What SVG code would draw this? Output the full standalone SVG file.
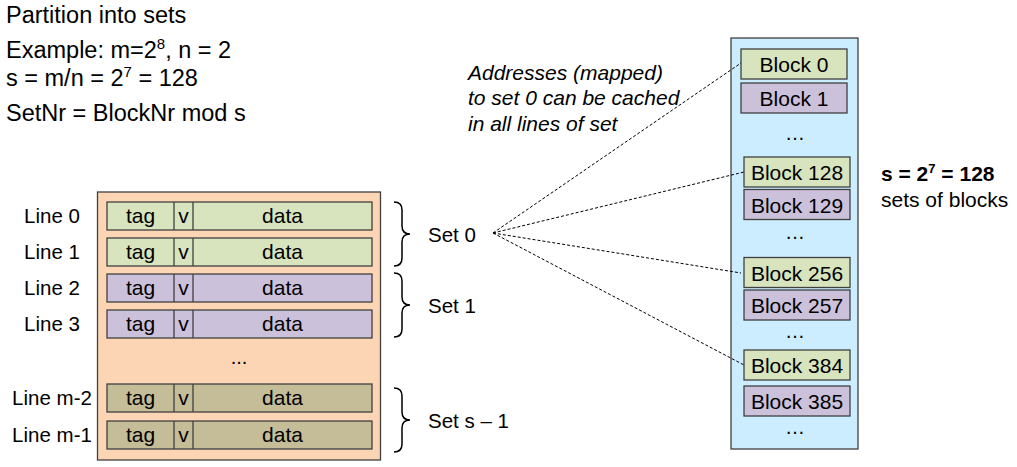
<svg xmlns="http://www.w3.org/2000/svg" width="1017" height="467" viewBox="0 0 1017 467">
  <style>
    text { font-family: "Liberation Sans", Arial, sans-serif; fill: #000; }
    .h { font-size: 23.5px; }
    .lbl { font-size: 20.5px; }
    .it { font-size: 21px; font-style: italic; }
    .cell { font-size: 21px; text-anchor: middle; }
    .box { stroke: #404040; stroke-width: 1.3; }
    .green { fill: #D7E4BD; }
    .purple { fill: #CCC1DA; }
    .tan { fill: #C4BD97; }
    .brace { fill: none; stroke: #000; stroke-width: 1.5; }
    .dash { fill: none; stroke: #000; stroke-width: 1; stroke-dasharray: 3 2; }
    .dots { font-size: 20px; text-anchor: middle; }
  </style>
  <defs>
    <!-- one cache line: tag | v | data -->
    <g id="row">
      <rect x="107" y="0" width="265" height="28" class="box"/>
      <line x1="174" y1="0" x2="174" y2="28" class="box"/>
      <line x1="193" y1="0" x2="193" y2="28" class="box"/>
      <text x="140.5" y="21" class="cell">tag</text>
      <text x="183.5" y="21" class="cell">v</text>
      <text x="282.5" y="21" class="cell">data</text>
    </g>
    <path id="brace" class="brace" d="M 0 0 Q 8 0 8 8 L 8 24 Q 8 32 16 32 Q 8 32 8 40 L 8 56 Q 8 64 0 64"/>
  </defs>

  <!-- heading text -->
  <g id="notes">
    <text x="6" y="23" class="h">Partition into sets</text>
    <text x="6" y="58" class="h">Example: m=2<tspan font-size="15" dy="-9">8</tspan><tspan dy="9">, n = 2</tspan></text>
    <text x="6" y="86" class="h">s = m/n = 2<tspan font-size="15" dy="-9">7</tspan><tspan dy="9"> = 128</tspan></text>
    <text x="6" y="121" class="h">SetNr = BlockNr mod s</text>
  </g>

  <!-- cache -->
  <g id="cache">
    <rect x="97.5" y="192" width="283" height="268" fill="#FCD5B4" stroke="#404040" stroke-width="1.3"/>
    <g class="green"><use href="#row" y="202"/></g>
    <g class="green"><use href="#row" y="238"/></g>
    <g class="purple"><use href="#row" y="274"/></g>
    <g class="purple"><use href="#row" y="310"/></g>
    <text x="239" y="364" class="dots">...</text>
    <g class="tan"><use href="#row" y="384"/></g>
    <g class="tan"><use href="#row" y="421"/></g>
  </g>

  <g id="line-labels" class="lbl" text-anchor="middle">
    <text x="52" y="223">Line 0</text>
    <text x="52" y="259">Line 1</text>
    <text x="52" y="295">Line 2</text>
    <text x="52" y="331">Line 3</text>
    <text x="52" y="405">Line m-2</text>
    <text x="52" y="442">Line m-1</text>
  </g>

  <!-- sets -->
  <g id="set0">
    <use href="#brace" x="394" y="202"/>
    <text x="428" y="242" class="lbl">Set 0</text>
  </g>
  <g id="set1">
    <use href="#brace" x="394" y="273"/>
    <text x="428" y="313" class="lbl">Set 1</text>
  </g>
  <g id="setlast">
    <use href="#brace" x="394" y="388"/>
    <text x="428" y="428" class="lbl">Set s – 1</text>
  </g>

  <g id="note-mapped" class="it">
    <text x="468" y="80">Addresses (mapped)</text>
    <text x="468" y="105">to set 0 can be cached</text>
    <text x="468" y="131">in all lines of set</text>
  </g>

  <!-- main memory -->
  <g id="memory">
    <rect x="731" y="38" width="127" height="411" fill="#CCECFF" stroke="#404040" stroke-width="1.3"/>
    <g id="block0"><rect x="741" y="49" width="106" height="30" class="box green"/><text x="794" y="72" class="cell">Block 0</text></g>
    <g id="block1"><rect x="741" y="83" width="106" height="30" class="box purple"/><text x="794" y="106" class="cell">Block 1</text></g>
    <text x="795" y="140" class="dots">…</text>
    <g id="block128"><rect x="744" y="157" width="106" height="30" class="box green"/><text x="797" y="180" class="cell">Block 128</text></g>
    <g id="block129"><rect x="744" y="189.5" width="106" height="30" class="box purple"/><text x="797" y="212.5" class="cell">Block 129</text></g>
    <text x="795" y="239" class="dots">…</text>
    <g id="block256"><rect x="744" y="257.5" width="106" height="30" class="box green"/><text x="797" y="280.5" class="cell">Block 256</text></g>
    <g id="block257"><rect x="744" y="290" width="106" height="30" class="box purple"/><text x="797" y="313" class="cell">Block 257</text></g>
    <text x="795" y="338" class="dots">…</text>
    <g id="block384"><rect x="744" y="350" width="106" height="30" class="box green"/><text x="797" y="373" class="cell">Block 384</text></g>
    <g id="block385"><rect x="744" y="386" width="106" height="30" class="box purple"/><text x="797" y="409" class="cell">Block 385</text></g>
    <text x="795" y="434" class="dots">…</text>
  </g>

  <g id="sets-note" font-size="21">
    <text x="881" y="181" font-weight="bold">s = 2<tspan font-size="13" dy="-8">7</tspan><tspan dy="8"> = 128</tspan></text>
    <text x="881" y="207">sets of blocks</text>
  </g>

  <!-- connectors from Set 0 to its blocks -->
  <g id="connectors">
    <path class="dash" d="M 493 233 L 741 63"/>
    <path class="dash" d="M 493 233 L 744 172"/>
    <path class="dash" d="M 493 233 L 741 273"/>
    <path class="dash" d="M 493 233 L 744 365"/>
  </g>
</svg>
